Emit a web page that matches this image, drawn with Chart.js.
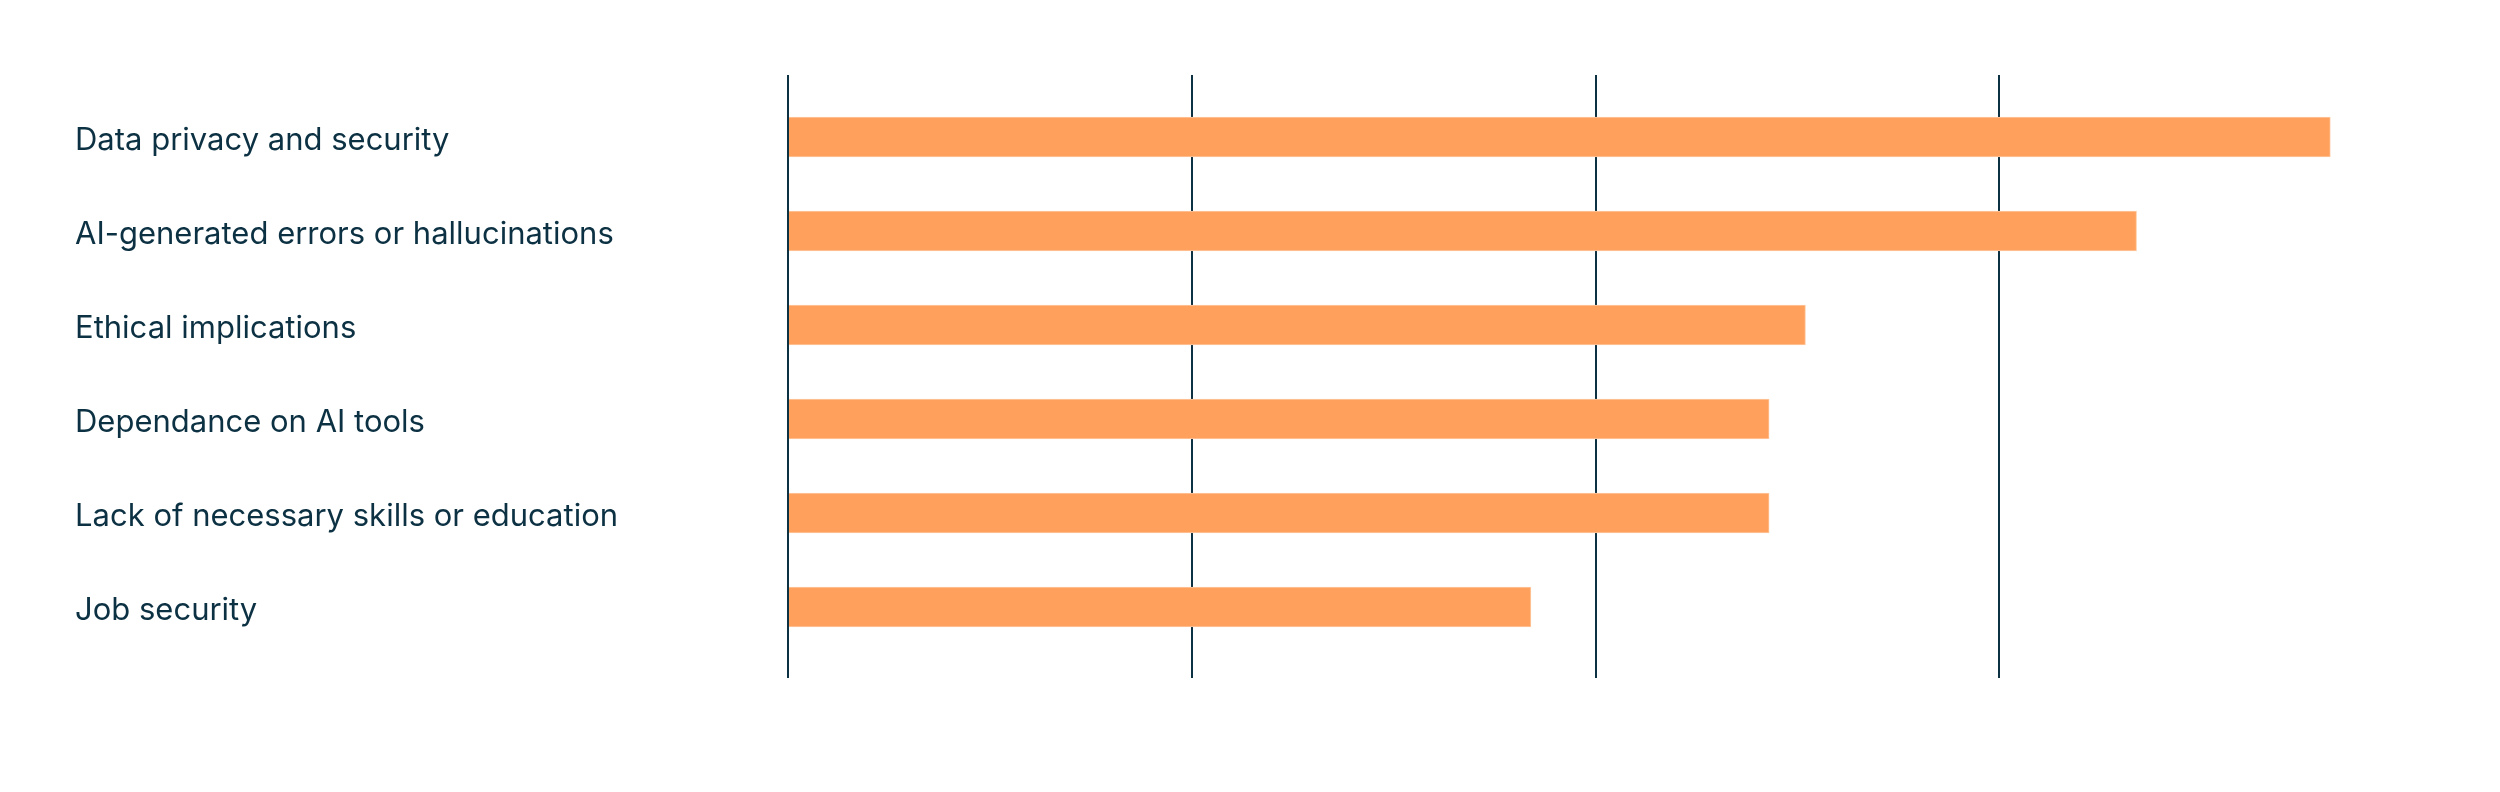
<!DOCTYPE html>
<html>
<head>
<meta charset="utf-8">
<script src="https://cdn.jsdelivr.net/npm/chart.js@4.4.1/dist/chart.umd.min.js"></script>
<style>
  html, body { margin: 0; padding: 0; background: #ffffff; }
  #wrap { width: 2500px; height: 792px; }
</style>
</head>
<body>
<div id="wrap"><canvas id="barChart" width="2500" height="792"></canvas></div>
<script>
const categories = [
    "Data privacy and security",
    "AI-generated errors or hallucinations",
    "Ethical implications",
    "Dependance on AI tools",
    "Lack of necessary skills or education",
    "Job security"
];
const shares = [38.2, 33.4, 25.2, 24.3, 24.3, 18.4];
const gridTicks = [0, 10, 20, 30];

const ink = '#0c3143';

var barData = {
    datasets: [
        {
            label: "Concerns",
            backgroundColor: '#ffa15c',
            borderColor: '#ffc9a1',
            borderWidth: 1,
            barThickness: 40,
            data: shares.map(function (v, i) { return { x: v, y: i }; })
        }
    ]
};

var barOptions = {
    responsive: false,
    devicePixelRatio: 1,
    animation: false,
    indexAxis: 'y',
    layout: { padding: { left: 75, right: 97, top: 75, bottom: 114 } },
    plugins: { legend: { display: false }, tooltip: { enabled: false } },
    scales: {
        x: {
            type: 'linear',
            min: 0,
            max: 40,
            border: { display: false },
            grid: {
                drawTicks: false,
                lineWidth: 2,
                color: function (ctx) {
                    return gridTicks.indexOf(ctx.tick && ctx.tick.value) >= 0 ? ink : 'rgba(0,0,0,0)';
                }
            },
            ticks: { display: false, stepSize: 10 }
        },
        y: {
            type: 'linear',
            reverse: true,
            offset: false,
            min: -0.66,
            max: 5.755,
            border: { display: false },
            grid: { display: false, offset: false },
            afterFit: function (scale) { scale.width = 713; },
            ticks: {
                stepSize: 1,
                crossAlign: 'far',
                labelOffset: 4,
                color: ink,
                font: { family: 'Inter', size: 31 },
                callback: function (value) {
                    return Number.isInteger(value) ? categories[value] : '';
                }
            }
        }
    }
};

var ctx2 = document.getElementById("barChart").getContext("2d");
new Chart(ctx2, { type: 'bar', data: barData, options: barOptions });
</script>
</body>
</html>
